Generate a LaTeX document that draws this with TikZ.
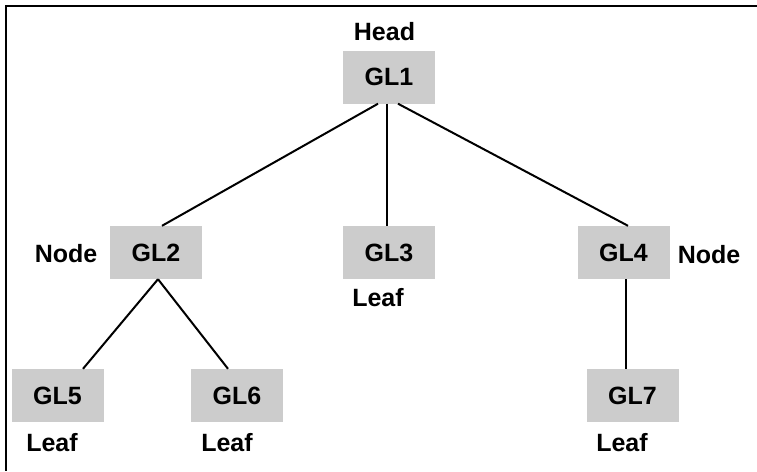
\documentclass[tikz,border=0pt]{standalone}
\usepackage{fontspec}
\setmainfont{Liberation Sans}
\usetikzlibrary{positioning}
\definecolor{boxgray}{RGB}{204,204,204}
\tikzset{
	glbox/.style={fill=boxgray, minimum width=92pt, minimum height=53pt, inner sep=0pt, font=\fontsize{25}{29}\selectfont\bfseries},
	glname/.style={inner sep=0pt, font=\fontsize{25}{29}\selectfont\bfseries},
	edge/.style={line width=2pt}
}
\begin{document}
\begin{tikzpicture}[x=1pt, y=-1pt]
	\useasboundingbox (0,0) rectangle (757,471);
	% Rahmen
	\draw [line width=2.6pt] (757,6) -- (6,6) -- (6,471);
	% Kaesten
	\node [glbox] (gl1) at (389,77) {GL1};
	\node [glbox] (gl2) at (156,252.5) {GL2};
	\node [glbox] (gl3) at (389,252.5) {GL3};
	\node [glbox] (gl4) at (623.5,252.5) {GL4};
	\node [glbox] (gl5) at (57.5,395.5) {GL5};
	\node [glbox] (gl6) at (237,395.5) {GL6};
	\node [glbox] (gl7) at (632.5,395.5) {GL7};
	% Beschriftungen
	\node [glname] (head) at (384.5,31.5) {Head};
	\node [glname] (node2) at (66,254) {Node};
	\node [glname] (leaf3) at (378,298) {Leaf};
	\node [glname] (node4) at (709,255) {Node};
	\node [glname] (leaf5) at (52,443) {Leaf};
	\node [glname] (leaf6) at (227,443) {Leaf};
	\node [glname] (leaf7) at (622,443) {Leaf};
	% Verbindungen
	\draw [edge] ([xshift=-11pt]gl1.south) -- ([xshift=6pt]gl2.north);
	\draw [edge] ([xshift=-2pt]gl1.south) -- ([xshift=-2pt]gl3.north);
	\draw [edge] ([xshift=9pt]gl1.south) -- ([xshift=4.5pt]gl4.north);
	\draw [edge] ([xshift=2pt]gl2.south) -- ([xshift=25.5pt]gl5.north);
	\draw [edge] ([xshift=2pt]gl2.south) -- ([xshift=-9pt]gl6.north);
	\draw [edge] ([xshift=2.5pt]gl4.south) -- ([xshift=-6.5pt]gl7.north);
\end{tikzpicture}
\end{document}
